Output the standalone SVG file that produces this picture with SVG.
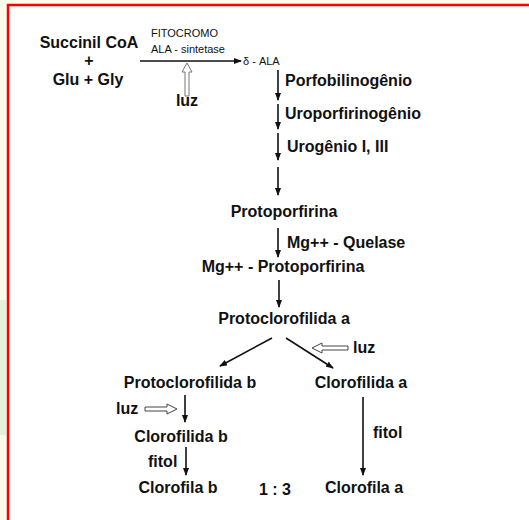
<svg xmlns="http://www.w3.org/2000/svg" width="529" height="520" viewBox="0 0 529 520">
<style>
.t{font-family:"Liberation Sans",Arial,sans-serif;font-weight:bold;font-size:16px;fill:#111}
.s{font-family:"Liberation Sans",Arial,sans-serif;font-size:11px;fill:#111}
.c{text-anchor:middle}
.ln{stroke:#111;stroke-width:1.6;fill:none}
.ho{fill:#fff;stroke:#444;stroke-width:1}
</style>
<defs>
<marker id="ah" markerUnits="userSpaceOnUse" markerWidth="8" markerHeight="6" refX="7" refY="3" orient="auto">
<path d="M0,0 L8,3 L0,6 z" fill="#111"/>
</marker>
</defs>
<rect width="529" height="520" fill="#fbfde9"/>
<rect x="0" y="300" width="6" height="135" fill="#e4f2dc"/>
<rect x="8" y="5" width="530" height="530" fill="#fff" stroke="#ff0000" stroke-width="2.5"/>

<g id="succinil"><text class="t c" x="89" y="48">Succinil CoA</text><text class="t c" x="89" y="66">+</text><text class="t c" x="88" y="85">Glu + Gly</text></g>
<g id="enzima"><text class="s" x="151" y="37">FITOCROMO</text><text class="s" x="151" y="53">ALA - sintetase</text></g>
<g id="luz1"><text class="t c" x="187" y="106">luz</text></g>
<g id="ala"><text class="s" x="243" y="65">δ - ALA</text></g>
<g id="porfobilinogenio"><text class="t" x="285" y="86">Porfobilinogênio</text></g>
<g id="uroporfirinogenio"><text class="t" x="285" y="119">Uroporfirinogênio</text></g>
<g id="urogenio"><text class="t" x="287" y="152">Urogênio I, III</text></g>
<g id="protoporfirina"><text class="t c" x="284" y="217">Protoporfirina</text></g>
<g id="quelase"><text class="t" x="287" y="248">Mg++ - Quelase</text></g>
<g id="mgprotoporfirina"><text class="t c" x="283" y="272">Mg++ - Protoporfirina</text></g>
<g id="protoclorofilida_a"><text class="t c" x="284" y="324">Protoclorofilida a</text></g>
<g id="luz2"><text class="t" x="353" y="353">luz</text></g>
<g id="protoclorofilida_b"><text class="t c" x="190" y="388">Protoclorofilida b</text></g>
<g id="clorofilida_a"><text class="t c" x="361" y="388">Clorofilida a</text></g>
<g id="luz3"><text class="t" x="116" y="414">luz</text></g>
<g id="clorofilida_b"><text class="t c" x="181" y="442">Clorofilida b</text></g>
<g id="fitol_b"><text class="t" x="148" y="467">fitol</text></g>
<g id="fitol_a"><text class="t" x="373" y="438">fitol</text></g>
<g id="clorofila_b"><text class="t c" x="178" y="493">Clorofila b</text></g>
<g id="razao"><text class="t c" x="275" y="495">1 : 3</text></g>
<g id="clorofila_a"><text class="t c" x="364" y="493">Clorofila a</text></g>

<g id="connectors">
<line class="ln" x1="140" y1="61" x2="241" y2="61" marker-end="url(#ah)"/>
<line class="ln" x1="278" y1="70" x2="278" y2="100" marker-end="url(#ah)"/>
<line class="ln" x1="278" y1="104" x2="278" y2="129" marker-end="url(#ah)"/>
<line class="ln" x1="278" y1="133" x2="278" y2="160" marker-end="url(#ah)"/>
<line class="ln" x1="278" y1="167" x2="278" y2="195" marker-end="url(#ah)"/>
<line class="ln" x1="278" y1="228" x2="278" y2="257" marker-end="url(#ah)"/>
<line class="ln" x1="279" y1="280" x2="279" y2="307" marker-end="url(#ah)"/>
<line class="ln" x1="272" y1="338" x2="220" y2="366" marker-end="url(#ah)"/>
<line class="ln" x1="286" y1="338" x2="333" y2="368" marker-end="url(#ah)"/>
<line class="ln" x1="185" y1="395" x2="185" y2="422" marker-end="url(#ah)"/>
<line class="ln" x1="186" y1="447" x2="186" y2="475" marker-end="url(#ah)"/>
<line class="ln" x1="363" y1="397" x2="363" y2="475" marker-end="url(#ah)"/>
<path class="ho" d="M185,96 L185,72 L182,72 L187,63 L192,72 L189,72 L189,96 Z" style="stroke:#777"/>
<path class="ho" d="M348,346 L322,346 L322,343 L312,348 L322,353 L322,350 L348,350 Z"/>
<path class="ho" d="M145,407 L167,407 L167,404 L177,409 L167,414 L167,411 L145,411 Z"/>
</g>
</svg>
